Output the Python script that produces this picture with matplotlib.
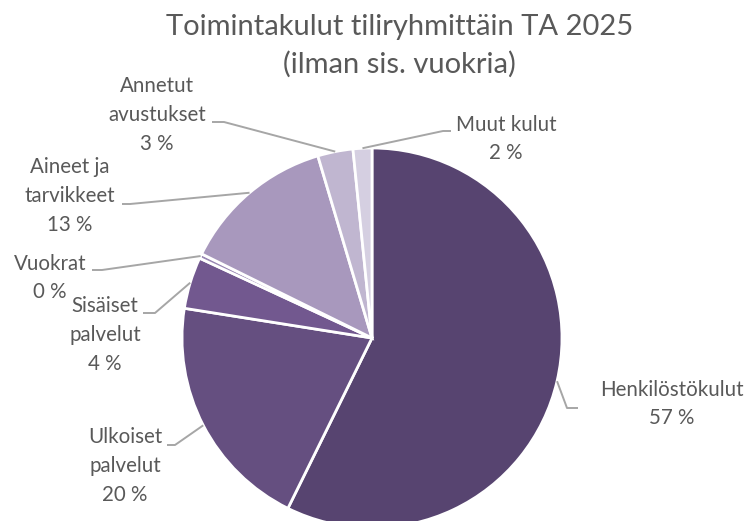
import numpy as np
import matplotlib
matplotlib.use("Agg")
import matplotlib.pyplot as plt

# -----------------------------
# Data
# -----------------------------
categories = ["Henkilöstökulut", "Ulkoiset\npalvelut", "Sisäiset\npalvelut", "Vuokrat",
              "Aineet ja\ntarvikkeet", "Annetut\navustukset", "Muut kulut"]
shares = [57.3, 20.2, 4.4, 0.4, 13.1, 3.0, 1.6]
colors = ["#574470", "#654f80", "#72588f", "#9a88b4", "#a898bd", "#c0b6d0", "#d5cfe1"]

# label layout (pixel coords, y down): text centre, elbow of leader, end of leader
label_pos = [(672, 404), (125, 466), (105, 335), (50, 278), (70, 196), (157, 115), (506, 139)]
elbows = [(567, 408), (175, 445), (155, 313), (102, 270), (130, 204), (224, 122), (443, 131)]
ends = [(578, 408), (167, 445), (143, 313), (92, 270), (122, 204), (212, 122), (451, 131)]

W, H = 747, 521
plt.rcParams["font.family"] = ["Lato", "DejaVu Sans"]
text_col = "#595959"
line_col = "#a6a6a6"

fig = plt.figure(figsize=(W / 100, H / 100), dpi=100)
ax = fig.add_axes([0, 0, 1, 1])

def Y(py):
    return H - py

cx, cy, r = 372, Y(338), 190
wedges, _ = ax.pie(shares, colors=colors, startangle=90, counterclock=False,
                   center=(cx, cy), radius=r, frame=True,
                   wedgeprops=dict(edgecolor="white", linewidth=2))
ax.set_xlim(0, W)
ax.set_ylim(0, H)
ax.set_aspect("equal")
ax.axis("off")

for w, name, val, (tx, ty), (ex, ey), (nx, ny) in zip(wedges, categories, shares, label_pos, elbows, ends):
    mid = np.deg2rad((w.theta1 + w.theta2) / 2)
    sx = cx + r * np.cos(mid)
    sy = cy + r * np.sin(mid)
    ax.plot([sx, ex, nx], [sy, Y(ey), Y(ny)], color=line_col, lw=1.4, solid_capstyle="butt")
    ax.text(tx, Y(ty), f"{name}\n{val:.0f} %", ha="center", va="center",
            fontsize=14.8, color=text_col, linespacing=1.55)

fig.text(0.535, Y(46) / H, "Toimintakulut tiliryhmittäin TA 2025\n(ilman sis. vuokria)",
         ha="center", va="center", fontsize=21, color=text_col, linespacing=1.5)

fig.savefig("out.png", dpi=100)
